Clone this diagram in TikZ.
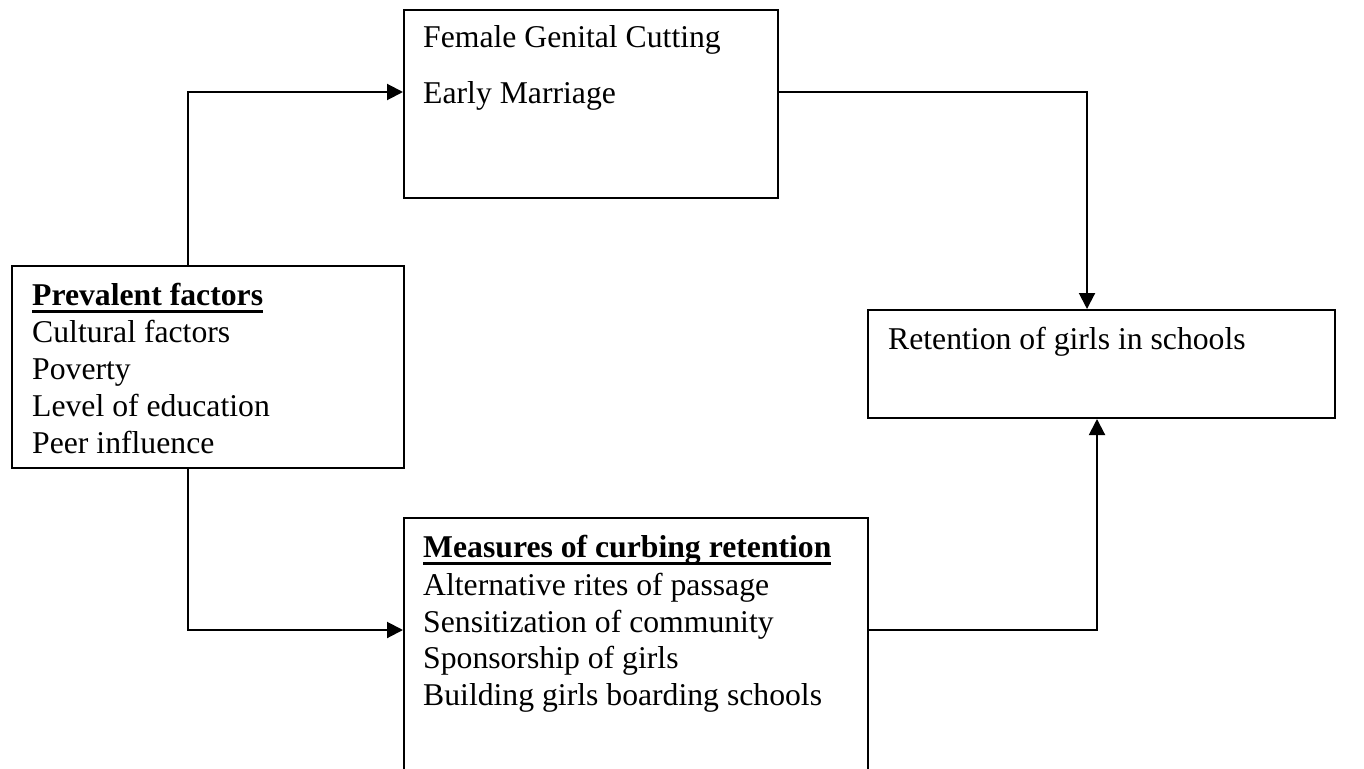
\documentclass[tikz,border=0pt]{standalone}
\usepackage{fontspec}
\setmainfont{Liberation Serif}
\usetikzlibrary{arrows.meta,calc}
\newcommand\thickul[1]{\setbox0\hbox{#1}\rlap{\rule[-7.5pt]{\wd0}{3pt}}\box0}
\begin{document}
\begin{tikzpicture}[x=1pt,y=-1pt,
  box/.style={draw=black,line width=2pt,inner sep=0pt,anchor=north west,fill=none},
  txt/.style={anchor=base west,inner sep=0pt,font=\fontsize{31.7pt}{36pt}\selectfont},
  arr/.style={draw=black,line width=2pt,-{Triangle[length=16pt,width=16pt]}}]
\useasboundingbox (0,0) rectangle (1364,768);
% boxes
\node[box,minimum width=374pt,minimum height=188pt] (top) at (403,9) {};
\node[box,minimum width=392pt,minimum height=202pt] (prev) at (11,265) {};
\node[box,minimum width=467pt,minimum height=108pt] (ret) at (867,309) {};
\node[box,minimum width=464pt,minimum height=262pt] (meas) at (403,517) {};
% texts
\node[txt] (t1) at (423,48) {Female Genital Cutting};
\node[txt] (t2) at (423,103) {Early Marriage};
\node[txt] (p0) at (32,305) {\thickul{\textbf{Prevalent factors}}};
\node[txt] (p1) at (32,342) {Cultural factors};
\node[txt] (p2) at (32,379) {Poverty};
\node[txt] (p3) at (32,416) {Level of education};
\node[txt] (p4) at (32,453) {Peer influence};
\node[txt] (r1) at (888,349) {Retention of girls in schools};
\node[txt] (m0) at (423,557) {\thickul{\textbf{Measures of curbing retention}}};
\node[txt] (m1) at (423,595) {Alternative rites of passage};
\node[txt] (m2) at (423,632) {Sensitization of community};
\node[txt] (m3) at (423,668) {Sponsorship of girls};
\node[txt] (m4) at (423,705) {Building girls boarding schools};
% connector bends
\coordinate (a1) at (188,92);
\coordinate (a2) at (1087,92);
\coordinate (a3) at (188,630);
\coordinate (a4) at (1097,630);
\draw[arr] (prev.north -| a1) |- (top.west |- a1);
\draw[arr] (top.east |- a2) -| (ret.north -| a2);
\draw[arr] (prev.south -| a3) |- (meas.west |- a3);
\draw[arr] (meas.east |- a4) -| (ret.south -| a4);
\end{tikzpicture}
\end{document}
